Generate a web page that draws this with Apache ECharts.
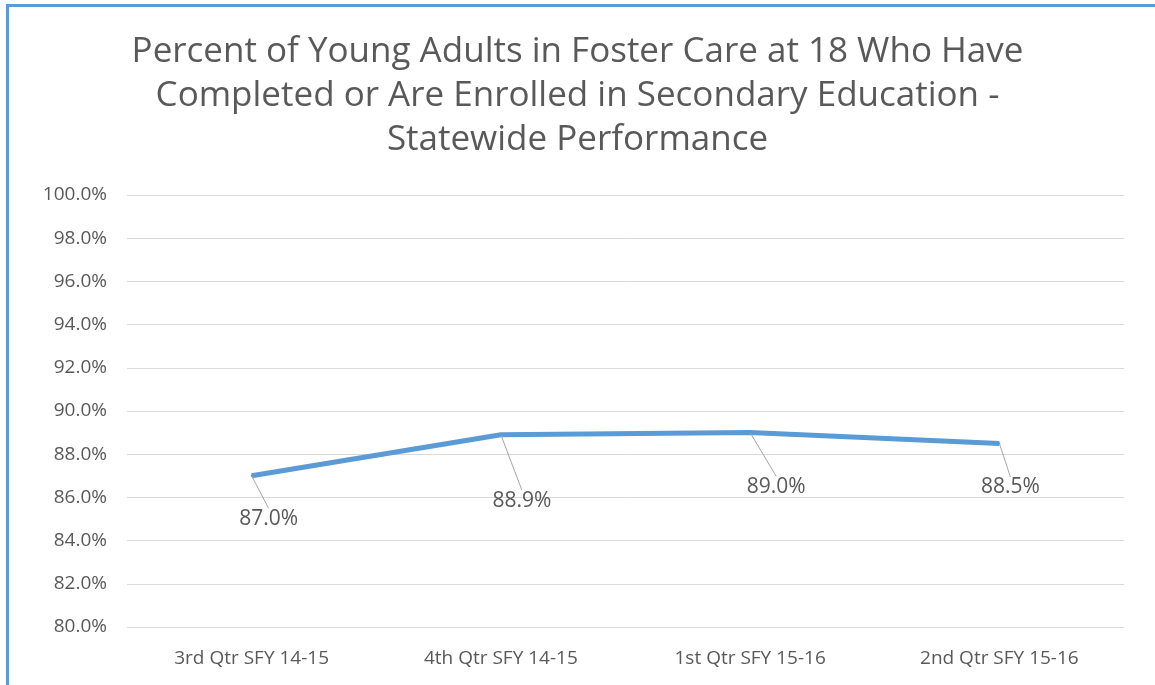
<!DOCTYPE html>
<html><head><meta charset="utf-8">
<script src="https://cdn.jsdelivr.net/npm/echarts@6/dist/echarts.min.js"></script>
<style>
html,body{margin:0;padding:0;background:#fff;}
#wrap{position:relative;width:1155px;height:685px;overflow:hidden;}
#chart{position:absolute;left:0;top:0;width:1155px;height:685px;}
#frame{position:absolute;left:6px;top:4px;width:1200px;height:700px;border-top:3px solid #5B9BD5;border-left:3px solid #5B9BD5;pointer-events:none;}
</style></head>
<body><div id="wrap"><div id="chart"></div><div id="frame"></div></div>
<script>
const titleText = "Percent of Young Adults in Foster Care at 18 Who Have\nCompleted or Are Enrolled in Secondary Education -\nStatewide Performance";
const categories = ["3rd Qtr SFY 14-15", "4th Qtr SFY 14-15", "1st Qtr SFY 15-16", "2nd Qtr SFY 15-16"];
const values = [87.0, 88.9, 89.0, 88.5];
const yMin = 80, yMax = 100, yStep = 2;
// label displacement (pixels) from each point, as styled in the original
const labelShift = [[17, 43], [21, 66], [26, 54], [11, 44]];

const chart = echarts.init(document.getElementById('chart'));
chart.setOption({
  animation: false,
  backgroundColor: '#fff',
  title: {
    text: titleText, left: 'center', top: 25,
    textStyle: {fontFamily: 'Open Sans', fontWeight: 'normal', fontSize: 35, color: '#595959', lineHeight: 44}
  },
  grid: {left: 127, right: 31, top: 195, bottom: 58},
  xAxis: {
    type: 'category', data: categories, boundaryGap: true,
    axisLine: {show: false}, axisTick: {show: false},
    axisLabel: {fontFamily: 'Open Sans', fontSize: 19, color: '#595959', margin: 22}
  },
  yAxis: {
    type: 'value', min: yMin, max: yMax, interval: yStep,
    axisLine: {show: false}, axisTick: {show: false},
    splitLine: {lineStyle: {color: '#d9d9d9', width: 1}},
    axisLabel: {fontFamily: 'Open Sans', fontSize: 19, color: '#595959', margin: 20,
      formatter: v => v.toFixed(1) + '%'}
  },
  series: [{
    type: 'line', data: values, symbol: 'circle', symbolSize: 2, showSymbol: true,
    itemStyle: {color: '#5B9BD5', borderWidth: 0},
    lineStyle: {color: '#5B9BD5', width: 5},
    label: {show: true, position: 'inside', fontFamily: 'Open Sans', fontSize: 21, color: '#595959',
      formatter: p => p.value.toFixed(1) + '%'},
    labelLayout: p => ({dx: labelShift[p.dataIndex][0], dy: labelShift[p.dataIndex][1]}),
    labelLine: {show: true, lineStyle: {color: '#a6a6a6', width: 1}}
  }]
});
</script></body></html>
